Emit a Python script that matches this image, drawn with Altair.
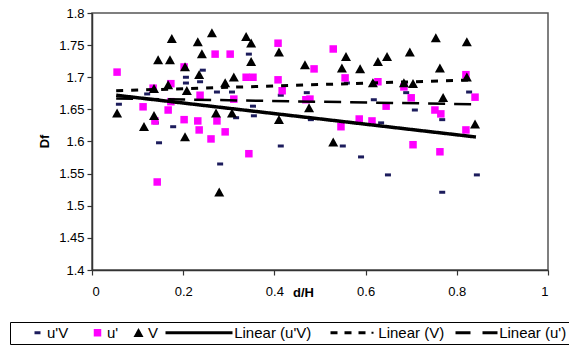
import json
import altair as alt
import pandas as pd

# ---- data ----
series = ["u'V", "u'", "V", "Linear (u'V)", "Linear (V)", "Linear (u')"]

v_x = [0.055, 0.114, 0.136, 0.136, 0.145, 0.171, 0.175, 0.167, 0.204, 0.208, 0.204,
       0.232, 0.241, 0.235, 0.263, 0.292, 0.311, 0.272, 0.307, 0.279, 0.338, 0.349,
       0.349, 0.410, 0.410, 0.467, 0.476, 0.529, 0.548, 0.557, 0.588, 0.627, 0.647,
       0.616, 0.684, 0.704, 0.697, 0.754, 0.763, 0.770, 0.822, 0.822, 0.840]
v_y = [1.644, 1.623, 1.682, 1.640, 1.727, 1.727, 1.760, 1.688, 1.716, 1.679, 1.607,
       1.755, 1.736, 1.704, 1.769, 1.691, 1.700, 1.644, 1.644, 1.521, 1.763, 1.753,
       1.724, 1.739, 1.634, 1.719, 1.652, 1.599, 1.714, 1.732, 1.713, 1.724, 1.732,
       1.691, 1.691, 1.690, 1.739, 1.761, 1.714, 1.668, 1.755, 1.700, 1.627]

up_x = [0.055, 0.112, 0.134, 0.138, 0.143, 0.167, 0.173, 0.173, 0.202, 0.202, 0.232,
        0.235, 0.237, 0.261, 0.270, 0.274, 0.292, 0.303, 0.311, 0.338, 0.353, 0.344,
        0.408, 0.408, 0.417, 0.469, 0.478, 0.487, 0.529, 0.555, 0.546, 0.586, 0.614,
        0.627, 0.645, 0.684, 0.700, 0.704, 0.752, 0.765, 0.763, 0.820, 0.840, 0.820]
up_y = [1.708, 1.654, 1.683, 1.632, 1.537, 1.649, 1.690, 1.662, 1.716, 1.634, 1.632,
        1.618, 1.672, 1.604, 1.736, 1.632, 1.615, 1.736, 1.666, 1.700, 1.700, 1.581,
        1.753, 1.696, 1.679, 1.665, 1.666, 1.713, 1.744, 1.699, 1.623, 1.635, 1.632,
        1.693, 1.655, 1.685, 1.668, 1.595, 1.649, 1.643, 1.584, 1.704, 1.669, 1.618]

uv_x = [0.059, 0.121, 0.140, 0.147, 0.171, 0.178, 0.206, 0.206, 0.237, 0.243, 0.274,
        0.281, 0.307, 0.344, 0.353, 0.355, 0.316, 0.414, 0.414, 0.471, 0.480, 0.550,
        0.559, 0.590, 0.618, 0.634, 0.649, 0.689, 0.708, 0.768, 0.768, 0.827, 0.844]
uv_y = [1.658, 1.674, 1.629, 1.598, 1.693, 1.623, 1.700, 1.691, 1.693, 1.711, 1.677,
        1.565, 1.677, 1.736, 1.655, 1.640, 1.637, 1.672, 1.593, 1.676, 1.634, 1.593,
        1.691, 1.576, 1.665, 1.629, 1.548, 1.676, 1.649, 1.634, 1.521, 1.677, 1.548]

trend_names = ["Linear (u'V)", "Linear (V)", "Linear (u')"]
trend_x0 = [0.053, 0.053, 0.053]
trend_x1 = [0.842, 0.842, 0.842]
trend_y0 = [1.672, 1.679, 1.667]
trend_y1 = [1.607, 1.696, 1.658]

x_ticks = [0, 0.2, 0.4, 0.6, 0.8, 1]
y_ticks = [1.4, 1.45, 1.5, 1.55, 1.6, 1.65, 1.7, 1.75, 1.8]

# ---- tables ----
pts = pd.concat([
    pd.DataFrame({"x": uv_x, "y": uv_y, "series": "u'V"}),
    pd.DataFrame({"x": up_x, "y": up_y, "series": "u'"}),
    pd.DataFrame({"x": v_x, "y": v_y, "series": "V"}),
], ignore_index=True)

rows = []
for n, a, b, c, d in zip(trend_names, trend_x0, trend_x1, trend_y0, trend_y1):
    rows.append({"x": a, "y": c, "series": n})
    rows.append({"x": b, "y": d, "series": n})
lns = pd.DataFrame(rows)

# symbol shapes (unit = 5 px at size 100); the last three are legend line samples
shape_paths = [
    "M-0.6,-0.3H0.6V0.3H-0.6Z",
    "M-0.75,-0.75H0.75V0.75H-0.75Z",
    "M0,-0.95L1,0.85L-1,0.85Z",
    "M-1,-0.3H12.4V0.3H-1Z",
    "M-1,-0.3H0.4V0.3H-1Z M1.8,-0.3H3.2V0.3H1.8Z M4.6,-0.3H6V0.3H4.6Z M7.2,-0.2H7.6V0.2H7.2Z",
    "M-1,-0.3H2V0.3H-1Z M4.4,-0.3H7.4V0.3H4.4Z",
]
colors = ["#1c1c5c", "#ff00ff", "#000000", "#000000", "#000000", "#000000"]

FONT = "Liberation Sans"
NB = "\u00a0"
ZW = "\u200b"  # zero-width guard so the padding is not trimmed

# legend label spacing (leading room for line samples, trailing room between entries)
lead = [0, 0, 0, 13, 8, 7]
trail = [5, 3, 1, 4, 2, 0]
padded = {s: ZW + NB * a + s + NB * b + ZW for s, a, b in zip(series, lead, trail)}
label_expr = "datum.label"
for k, v in reversed(list(padded.items())):
    label_expr = (f"datum.label === {json.dumps(k, ensure_ascii=False)} ? "
                  f"{json.dumps(v, ensure_ascii=False)} : ({label_expr})")


def make_legend():
    return alt.Legend(
        title=ZW + NB * 4 + ZW, titleOrient="left", titlePadding=0, titleFontSize=15, titleFont=FONT,
        orient="none", legendX=-82, legendY=309,
        direction="horizontal", strokeColor="black", padding=3,
        labelFont=FONT, labelFontSize=15, labelColor="black", labelExpr=label_expr,
        symbolSize=100, symbolStrokeWidth=0, symbolOpacity=1,
        columnPadding=0, labelOffset=2, symbolOffset=0,
    )


x_scale = alt.Scale(domain=[0, 1], nice=False, zero=False)
y_scale = alt.Scale(domain=[1.4, 1.8], nice=False, zero=False)


def x_axis():
    return alt.Axis(values=x_ticks, format="~g", title="d/H", labelPadding=10,
                    titleY=22, titleX=211, titleBaseline="middle")


def y_axis():
    return alt.Axis(values=y_ticks, format=".2~f", title="Df", labelPadding=3,
                    titleX=-48, titleY=128, titleBaseline="middle")


points = alt.Chart(pts).mark_point(filled=True, opacity=1, size=100, strokeWidth=0).encode(
    x=alt.X("x:Q", scale=x_scale, axis=x_axis()),
    y=alt.Y("y:Q", scale=y_scale, axis=y_axis()),
    shape=alt.Shape("series:N", scale=alt.Scale(domain=series, range=shape_paths), legend=make_legend()),
    color=alt.Color("series:N", scale=alt.Scale(domain=series, range=colors), legend=make_legend()),
)

lines = alt.Chart(lns).mark_line(color="black", strokeCap="butt").encode(
    x=alt.X("x:Q", scale=x_scale, axis=x_axis()),
    y=alt.Y("y:Q", scale=y_scale, axis=y_axis()),
    strokeDash=alt.StrokeDash("series:N", scale=alt.Scale(domain=trend_names, range=[[1, 0], [7, 8], [17, 9]]), legend=None),
    strokeWidth=alt.StrokeWidth("series:N", scale=alt.Scale(domain=trend_names, range=[3.5, 2.5, 2.5]), legend=None),
)

chart = alt.layer(points, lines).properties(
    width=456, height=257,
    padding={"left": 92, "top": 13, "right": 21, "bottom": 84},
    autosize=alt.AutoSizeParams(type="none"),
    background="white",
).configure_view(
    stroke="#555", strokeWidth=1.5,
).configure_axis(
    labelFont=FONT, labelFontSize=13, labelColor="black",
    titleFont=FONT, titleFontSize=13, titleFontWeight="bold", titleColor="black",
    domainColor="#333", domainWidth=1.5, tickColor="#333", tickSize=5, tickWidth=1.2,
    grid=False,
)

chart.save("out.html", embed_options={"renderer": "svg", "actions": False})
